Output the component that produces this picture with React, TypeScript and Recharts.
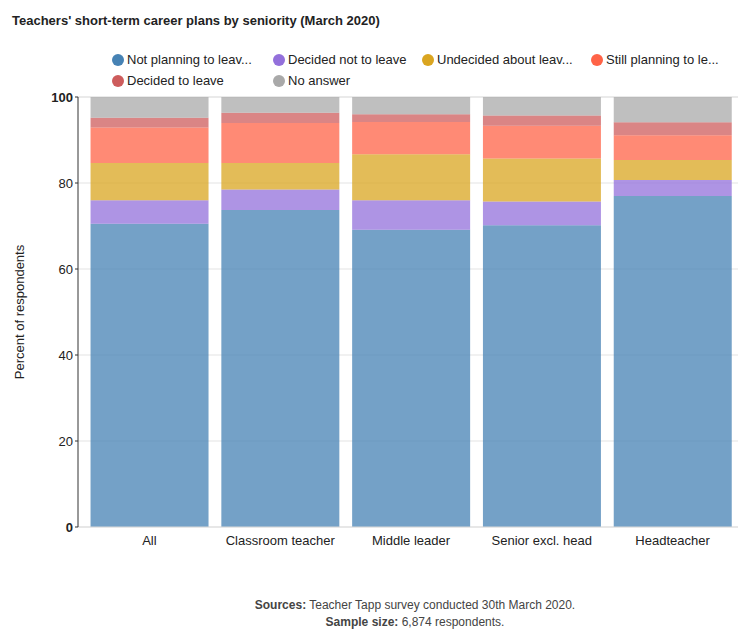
import React from "react";
import { BarChart, Bar, XAxis, YAxis, CartesianGrid, Label } from "recharts";

const categories = ["All", "Classroom teacher", "Middle leader", "Senior excl. head", "Headteacher"];
const notPlanning = [70.5, 73.7, 69.1, 70.2, 77.0];
const decidedNot = [5.5, 4.8, 6.9, 5.5, 3.7];
const undecided = [8.65, 6.15, 10.7, 10.0, 4.65];
const stillPlanning = [8.25, 9.3, 7.5, 7.6, 5.75];
const decidedLeave = [2.3, 2.4, 1.8, 2.4, 3.0];
const noAnswer = [4.8, 3.65, 4.0, 4.3, 5.9];
const yTicks = [0, 20, 40, 60, 80, 100];

const series = [
  { key: "notPlanning", label: "Not planning to leav...", color: "#4682b4", values: notPlanning },
  { key: "decidedNot", label: "Decided not to leave", color: "#9370db", values: decidedNot },
  { key: "undecided", label: "Undecided about leav...", color: "#daa520", values: undecided },
  { key: "stillPlanning", label: "Still planning to le...", color: "#ff6347", values: stillPlanning },
  { key: "decidedLeave", label: "Decided to leave", color: "#cd5c5c", values: decidedLeave },
  { key: "noAnswer", label: "No answer", color: "#a9a9a9", values: noAnswer },
];

const legendX = [112, 273, 422, 591];

const data = categories.map((c, i) => {
  const row: any = { name: c };
  series.forEach((s) => (row[s.key] = s.values[i]));
  return row;
});

const FONT = "'Liberation Sans', Arial, sans-serif";

const YTick = (props: any) => {
  const { x, y, payload } = props;
  const bold = payload.value === 0 || payload.value === 100;
  return (
    <text x={x} y={y} dy={5} textAnchor="end" fontSize={13} fill="#222" fontFamily={FONT} fontWeight={bold ? "bold" : "normal"}>
      {payload.value}
    </text>
  );
};

export default function App() {
  return (
    <div style={{ position: "absolute", left: 0, top: 0, width: 739, height: 629, background: "#fff", fontFamily: FONT }}>
      <div style={{ position: "absolute", left: 12, top: 13, fontSize: 13, fontWeight: "bold", color: "#222" }}>
        Teachers' short-term career plans by seniority (March 2020)
      </div>
      {series.map((s, i) => {
        const col = i % 4;
        const row = Math.floor(i / 4);
        return (
          <div key={s.key} style={{ position: "absolute", left: legendX[col], top: 52 + row * 21, display: "flex", alignItems: "center", fontSize: 13, color: "#222", whiteSpace: "nowrap" }}>
            <span style={{ display: "inline-block", width: 12, height: 12, borderRadius: 6, background: s.color, marginRight: 3 }} />
            {s.label}
          </div>
        );
      })}
      <div style={{ position: "absolute", left: 0, top: 0 }}>
        <BarChart width={739} height={629} data={data} margin={{ top: 97, right: 1, bottom: 72, left: 0 }} barCategoryGap="5%">
          <CartesianGrid vertical={false} stroke="#e3e3e3" />
          <XAxis dataKey="name" padding={{ left: 6, right: 0 }} tickLine={false} stroke="#ddd" tick={{ fontSize: 13, fill: "#222", fontFamily: FONT }} tickMargin={3} />
          <YAxis domain={[0, 100]} ticks={yTicks} width={78} stroke="#333" tickSize={3} tick={<YTick />} interval={0}>
            <Label value="Percent of respondents" angle={-90} position="insideLeft" offset={19} style={{ fontSize: 13, fill: "#222", fontFamily: FONT, textAnchor: "middle" }} />
          </YAxis>
          {series.map((s) => (
            <Bar key={s.key} dataKey={s.key} stackId="a" fill={s.color} fillOpacity={0.75} isAnimationActive={false} />
          ))}
        </BarChart>
      </div>
      <div style={{ position: "absolute", left: 0, width: 830, top: 597, textAlign: "center", fontSize: 12, color: "#444", lineHeight: "17px" }}>
        <div><b>Sources:</b> Teacher Tapp survey conducted 30th March 2020.</div>
        <div><b>Sample size:</b> 6,874 respondents.</div>
      </div>
    </div>
  );
}
